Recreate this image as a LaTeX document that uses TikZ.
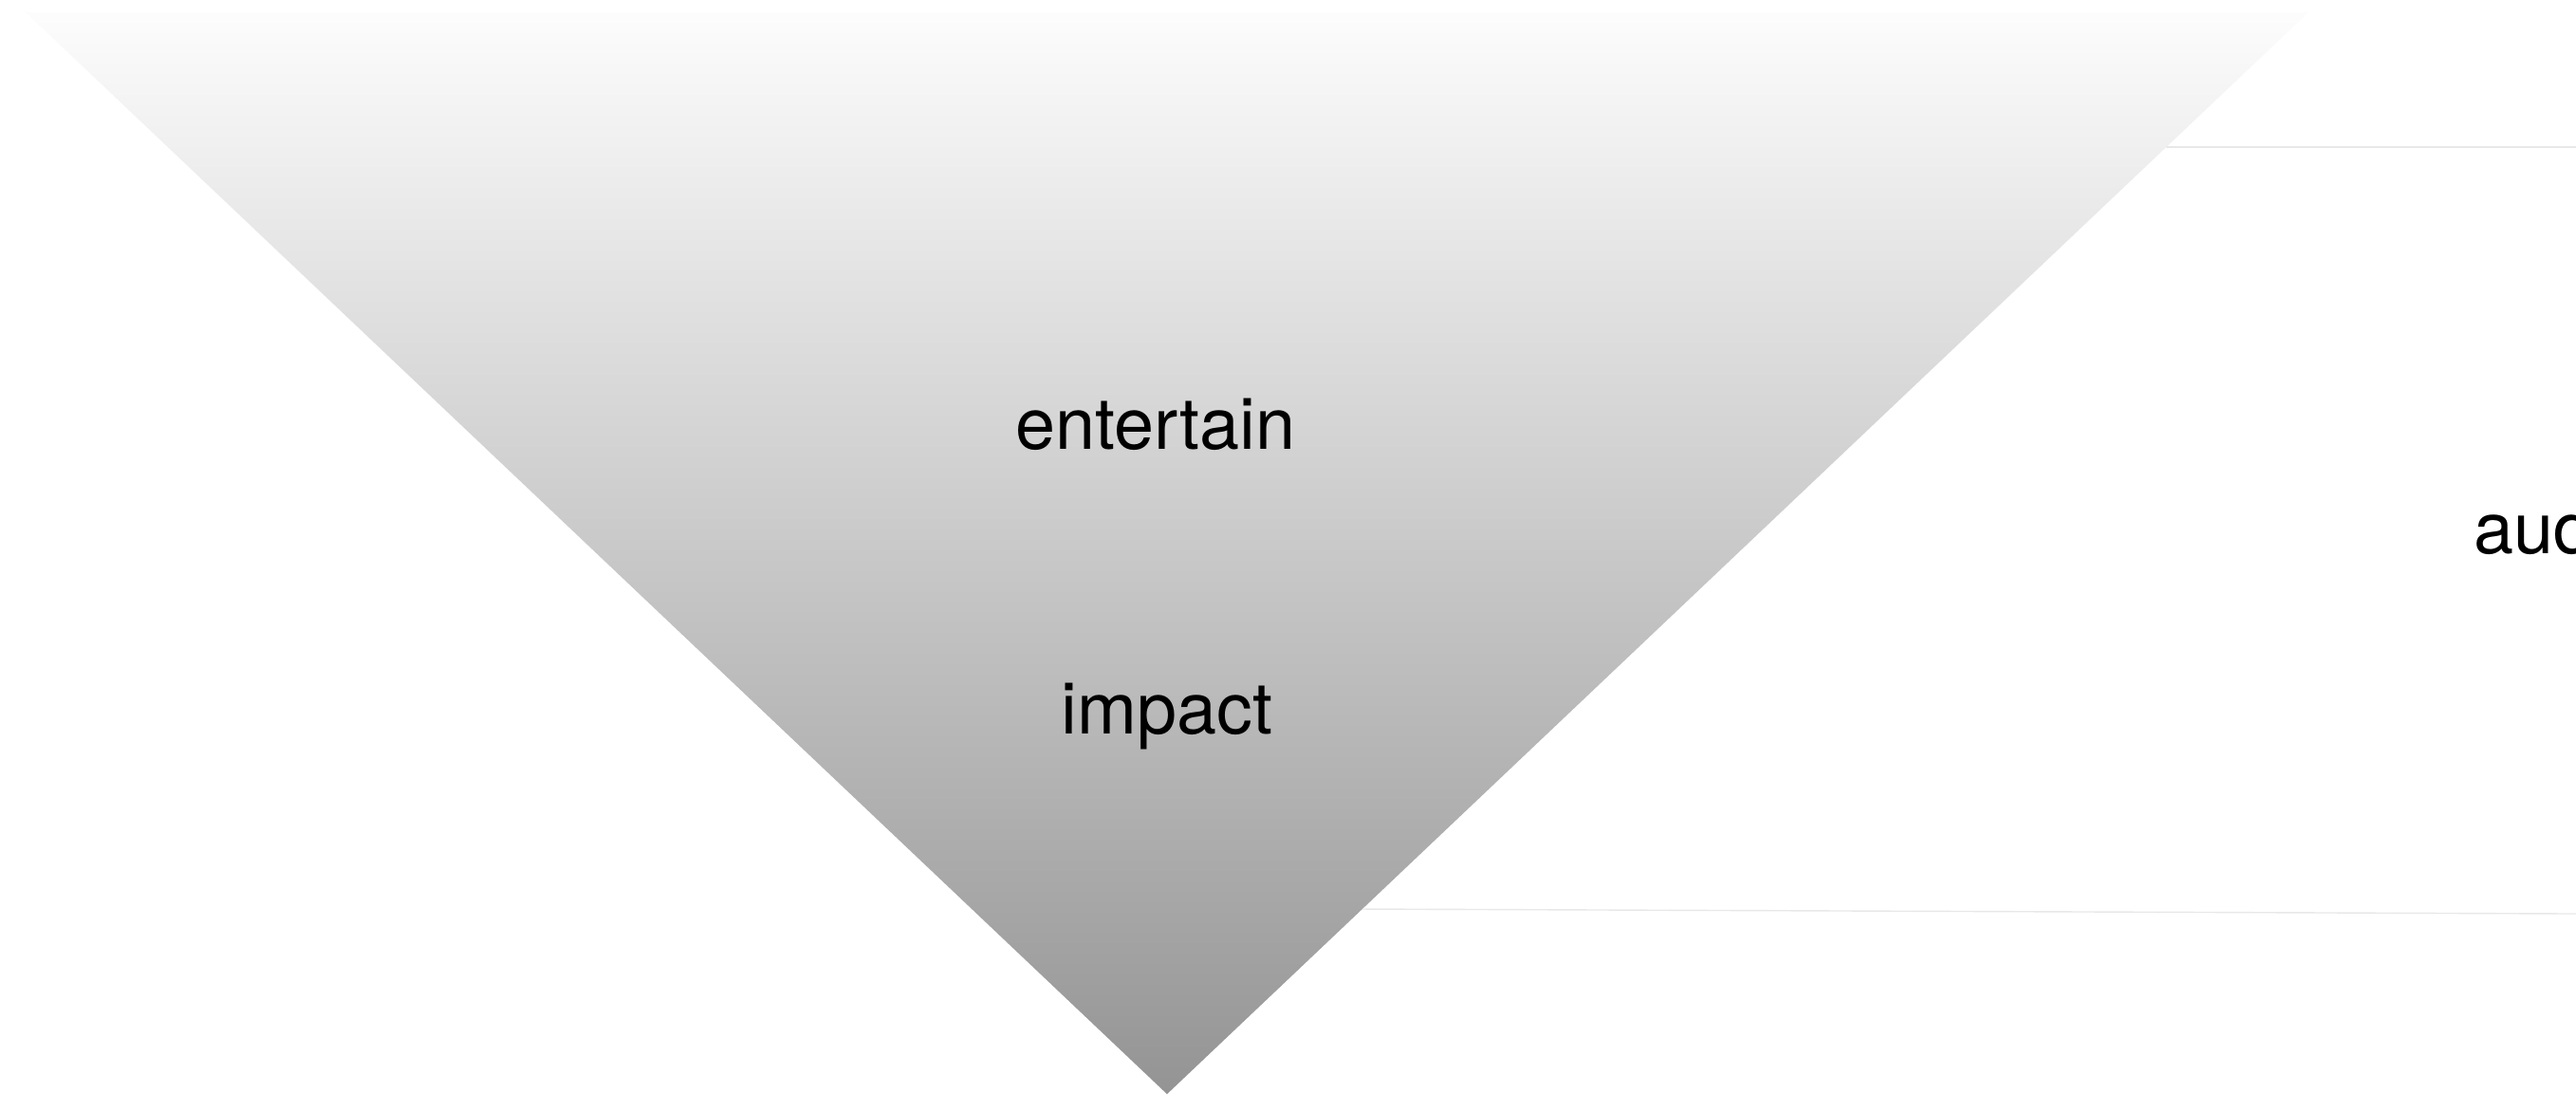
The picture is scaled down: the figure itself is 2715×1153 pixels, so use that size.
\documentclass[tikz,border=0pt]{standalone}
\usepackage{fontspec}
\setmainfont{TeX Gyre Heros}
\usepackage{tikz}
\tikzstyle{word}=[anchor=base, inner sep=0pt, font=\fontsize{21.5}{26}\selectfont]
\tikzstyle{rule}=[draw=black!9, line width=0.4pt]

\begin{document}
\begin{tikzpicture}[x=0.01cm, y=-0.01cm]
        \useasboundingbox (0,0) rectangle (2715,1153);
        \clip (0,0) rectangle (2715,1153);
        % funnel
        \coordinate (tl) at (27,13); \coordinate (tr) at (2433,13); \coordinate (apex) at (1230,1153);
        \shade[top color=black!1, bottom color=black!42] (tl) -- (tr) -- (apex) -- cycle;
        % side rules
        \coordinate (r1a) at (2283,155); \coordinate (r1b) at (2715,155);
        \coordinate (r2a) at (1436,958); \coordinate (r2b) at (2715,963);
        \draw[rule] (r1a) -- (r1b); \draw[rule] (r2a) -- (r2b);
        \node[word] (entertain) at (1218,473) {entertain};
        \node[word] (impact) at (1230,773) {impact};
        \node[word, anchor=base west] (audience) at (2607,583) {audience};
    \end{tikzpicture}
\end{document}
